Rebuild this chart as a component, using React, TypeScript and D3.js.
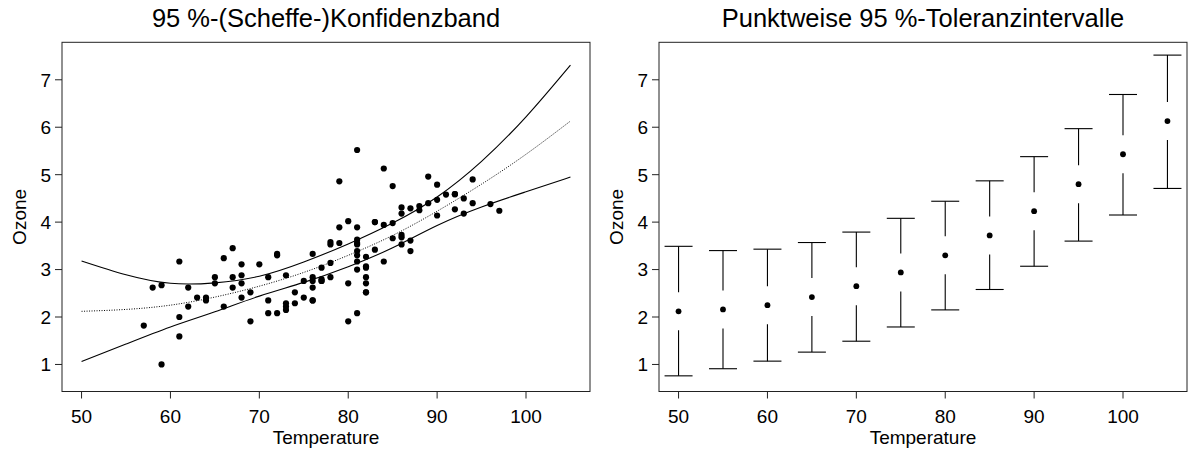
import React from 'react';
import * as d3 from 'd3';

// ---------- data ----------
// Scatter: Temperature vs. cube root of Ozone (airquality, complete cases)
const scatterTemp = [67,72,74,62,65,59,61,69,66,68, 58,64,66,57,68,62,59,73,61,61, 67,81,79,76,82,90,87,82,77,72, 65,73,76,84,85,81,83,83,88,92, 92,89,73,81,80,81,82,84,87,85, 74,86,85,82,86,88,86,83,81,81, 81,82,89,90,90,86,82,80,77,79, 76,78,78,77,72,79,81,86,97,94, 96,94,91,92,93,93,87,84,80,78, 75,73,81,76,77,71,71,78,67,76, 68,82,64,71,81,69,63,70,75,76, 68];
const scatterOzone = [3.45,3.30,2.29,2.62,2.84,2.67,2.00,2.52,2.22,2.41, 2.62,2.41,3.24,1.82,3.11,2.22,1.00,2.22,1.59,3.17, 2.84,3.56,4.86,3.33,3.07,4.14,3.39,2.84,2.76,3.33, 2.71,2.29,2.35,5.13,3.66,3.17,4.00,3.42,4.25,4.59, 4.59,4.40,2.15,3.00,1.91,3.63,3.27,3.94,4.29,3.98, 2.52,4.31,4.76,2.71,3.73,4.34,3.68,4.00,3.89,3.39, 2.08,2.52,4.96,4.47,4.79,3.53,3.04,4.02,2.80,3.89, 2.84,3.14,3.53,2.76,2.08,3.56,5.52,4.18,4.24,4.90, 4.38,4.40,4.58,4.27,4.18,4.50,3.61,3.17,2.71,2.84, 2.76,2.88,3.53,2.76,3.04,2.08,2.35,3.58,2.62,2.35, 2.88,2.52,2.35,2.84,3.30,1.91,2.41,3.11,2.41,2.62, 2.71];

// Grid of temperatures where fit / bands / intervals are read
const gridTemp = [50, 55, 60, 65, 70, 75, 80, 85, 90, 95, 100, 105];
const fitValues = [2.12, 2.16, 2.25, 2.42, 2.65, 2.94, 3.30, 3.72, 4.23, 4.80, 5.43, 6.13];
const scheffeUpper = [3.18, 2.89, 2.71, 2.72, 2.86, 3.16, 3.54, 3.98, 4.53, 5.28, 6.22, 7.31];
const scheffeLower = [1.06, 1.43, 1.79, 2.11, 2.44, 2.73, 3.06, 3.46, 3.93, 4.32, 4.64, 4.95];
const tolUpper = [3.49, 3.40, 3.43, 3.57, 3.79, 4.08, 4.44, 4.87, 5.38, 5.97, 6.69, 7.52];
const tolLower = [0.76, 0.91, 1.07, 1.26, 1.49, 1.79, 2.15, 2.58, 3.07, 3.60, 4.15, 4.71];

const xTicks = [50, 60, 70, 80, 90, 100];
const yTicks = [1, 2, 3, 4, 5, 6, 7];
const titles = ['95 %-(Scheffe-)Konfidenzband', 'Punktweise 95 %-Toleranzintervalle'];
const xLabel = 'Temperature';
const yLabel = 'Ozone';

// ---------- layout ----------
const W = 1190, H = 452;
const FONT = '"Liberation Sans", Arial, Helvetica, sans-serif';
const panels = [
  { left: 62, right: 590 },
  { left: 659, right: 1187 },
];
const top = 42.3, bottom = 391.5;
const xDomain: [number, number] = [47.8, 107.2];
const yDomain: [number, number] = [0.43, 7.79];

function Frame({ x, y, title }: { x: d3.ScaleLinear<number, number>; y: d3.ScaleLinear<number, number>; title: string }) {
  const [l, r] = x.range();
  const cx = (l + r) / 2;
  const cy = (top + bottom) / 2;
  return (
    <g>
      <rect x={l} y={top} width={r - l} height={bottom - top} fill="none" stroke="#222" strokeWidth={1} />
      <text x={cx} y={27} textAnchor="middle" fontSize={25.5} fontFamily={FONT} fill="#000">{title}</text>
      {xTicks.map(t => (
        <g key={'x' + t}>
          <line x1={x(t)} x2={x(t)} y1={bottom} y2={bottom + 7} stroke="#222" />
          <text x={x(t)} y={422.5} textAnchor="middle" fontSize={19} fontFamily={FONT} fill="#000">{t}</text>
        </g>
      ))}
      {yTicks.map(t => (
        <g key={'y' + t}>
          <line x1={l - 7} x2={l} y1={y(t)} y2={y(t)} stroke="#222" />
          <text x={l - 11} y={y(t)} dy="0.36em" textAnchor="end" fontSize={19} fontFamily={FONT} fill="#000">{t}</text>
        </g>
      ))}
      <text x={cx} y={443.5} textAnchor="middle" fontSize={19} fontFamily={FONT} fill="#000">{xLabel}</text>
      <text transform={`translate(${l - 36.3},${cy}) rotate(-90)`} textAnchor="middle" fontSize={19} fontFamily={FONT} fill="#000">{yLabel}</text>
    </g>
  );
}

export default function App() {
  const x1 = d3.scaleLinear().domain(xDomain).range([panels[0].left, panels[0].right]);
  const x2 = d3.scaleLinear().domain(xDomain).range([panels[1].left, panels[1].right]);
  const y = d3.scaleLinear().domain(yDomain).range([bottom, top]);

  const mkLine = (vals: number[]) =>
    d3.line<number>().x((_, i) => x1(gridTemp[i])).y(v => y(v)).curve(d3.curveNatural)(vals) || '';

  const capHalf = 14;
  const gap = 19;

  return (
    <svg width={W} height={H} style={{ position: 'absolute', left: 0, top: 0, background: '#fff' }}>
      <rect x={0} y={0} width={W} height={H} fill="#fff" />
      {/* Left panel */}
      <Frame x={x1} y={y} title={titles[0]} />
      <g>
        {scatterTemp.map((t, i) => (
          <circle key={i} cx={x1(t)} cy={y(scatterOzone[i])} r={3.1} fill="#000" />
        ))}
        <path d={mkLine(scheffeUpper)} fill="none" stroke="#000" strokeWidth={1.1} />
        <path d={mkLine(scheffeLower)} fill="none" stroke="#000" strokeWidth={1.1} />
        <path d={mkLine(fitValues)} fill="none" stroke="#000" strokeWidth={1} strokeDasharray="1,1.5" />
      </g>
      {/* Right panel */}
      <Frame x={x2} y={y} title={titles[1]} />
      <g>
        {gridTemp.map((t, i) => {
          const px = x2(t);
          const pf = y(fitValues[i]);
          const pu = y(tolUpper[i]);
          const pl = y(tolLower[i]);
          return (
            <g key={t} stroke="#000" strokeWidth={1.1}>
              <line x1={px} x2={px} y1={pu} y2={pf - gap} />
              <line x1={px} x2={px} y1={pf + gap} y2={pl} />
              <line x1={px - capHalf} x2={px + capHalf} y1={pu} y2={pu} />
              <line x1={px - capHalf} x2={px + capHalf} y1={pl} y2={pl} />
              <circle cx={px} cy={pf} r={2.9} fill="#000" stroke="none" />
            </g>
          );
        })}
      </g>
    </svg>
  );
}
